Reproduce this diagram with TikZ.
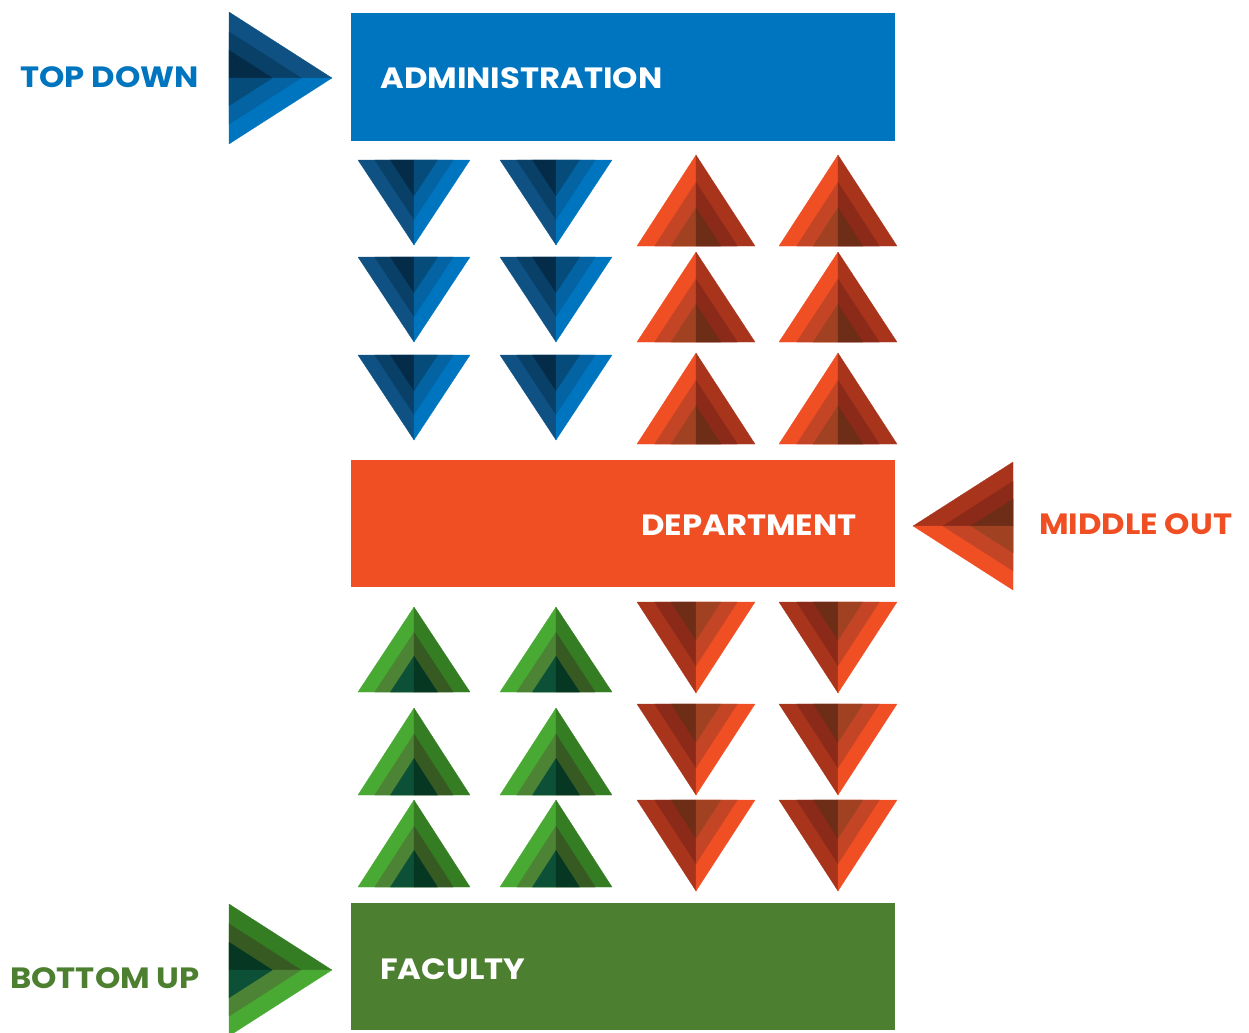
\documentclass[tikz,border=0pt]{standalone}
\usepackage{fontspec}
\setmainfont{Poppins}[FakeStretch=1.1]
\usetikzlibrary{calc}
\definecolor{blueMain}{RGB}{0,117,191}
\definecolor{orangeMain}{RGB}{240,78,35}
\definecolor{greenMain}{RGB}{76,127,47}
% blue sets: bB = bright half, bD = dark half
\definecolor{bB1}{RGB}{0,117,191}\definecolor{bB2}{RGB}{3,99,163}\definecolor{bB3}{RGB}{5,76,122}
\definecolor{bD1}{RGB}{14,81,130}\definecolor{bD2}{RGB}{8,64,104}\definecolor{bD3}{RGB}{4,44,72}
% orange
\definecolor{oB1}{RGB}{240,78,35}\definecolor{oB2}{RGB}{196,69,38}\definecolor{oB3}{RGB}{160,66,34}
\definecolor{oD1}{RGB}{168,52,28}\definecolor{oD2}{RGB}{140,42,26}\definecolor{oD3}{RGB}{110,45,22}
% green
\definecolor{gB1}{RGB}{72,170,50}\definecolor{gB2}{RGB}{76,131,52}\definecolor{gB3}{RGB}{12,80,55}
\definecolor{gD1}{RGB}{52,125,35}\definecolor{gD2}{RGB}{55,90,35}\definecolor{gD3}{RGB}{5,55,35}
% #1 apex, #2 base end A, #3 base end B, #4 colour set of A half, #5 colour set of B half
\newcommand{\shtri}[5]{%
  \coordinate (M) at ($#2!0.5!#3$);
  \foreach \s/\k in {1/1,0.7/2,0.42/3}{%
    \filldraw[fill=#4\k,draw=#4\k,line width=0.2pt,line join=round] (M) -- ($(M)!\s!#2$) -- ($(M)!\s!#1$) -- cycle;
    \filldraw[fill=#5\k,draw=#5\k,line width=0.2pt,line join=round] (M) -- ($(M)!\s!#3$) -- ($(M)!\s!#1$) -- cycle;
  }}
\tikzset{
  bartext/.style={inner sep=0pt,text=white,font=\bfseries\fontsize{22}{26}\selectfont},
  lbl/.style={inner sep=0pt,font=\bfseries\fontsize{22}{26}\selectfont},
}
\begin{document}
\begin{tikzpicture}[x=0.75pt,y=-0.75pt]
\useasboundingbox (0,0) rectangle (1249,1032);
% bars
\fill[blueMain] (351,13) rectangle (895,141);
\fill[orangeMain] (351,460) rectangle (895,587);
\fill[greenMain] (351,903) rectangle (895,1030);
\node[bartext,anchor=west] (adm) at (380,78) {ADMINISTRATION};
\node[bartext,anchor=east] (dep) at (857,525) {DEPARTMENT};
\node[bartext,anchor=west] (fac) at (380,969) {FACULTY};
% labels
\node[lbl,anchor=west,text=blueMain] (td) at (20,77) {TOP DOWN};
\node[lbl,anchor=west,text=orangeMain] (mo) at (1039,524) {MIDDLE OUT};
\node[lbl,anchor=west,text=greenMain] (bu) at (10,978) {BOTTOM UP};
% big arrows
\shtri{(332,78)}{(229,12)}{(229,144)}{bD}{bB}
\shtri{(913,526)}{(1013,462)}{(1013,590)}{oD}{oB}
\shtri{(332,970)}{(229,904)}{(229,1036)}{gD}{gB}
% blue down triangles
\foreach \cx in {414,556}{
  \foreach \by in {160,257,355}{
    \shtri{(\cx,\by+85)}{(\cx-56,\by)}{(\cx+56,\by)}{bD}{bB}
  }}
% orange up triangles
\foreach \cx in {696,838}{
  \foreach \ay/\by in {155/246,252/342,353/444}{
    \shtri{(\cx,\ay)}{(\cx-59,\by)}{(\cx+59,\by)}{oB}{oD}
  }}
% green up triangles
\foreach \cx in {414,556}{
  \foreach \ay/\by in {607/692,708/795,800/887}{
    \shtri{(\cx,\ay)}{(\cx-56,\by)}{(\cx+56,\by)}{gB}{gD}
  }}
% orange down triangles
\foreach \cx in {696,838}{
  \foreach \by/\ay in {602/693,704/795,800/891}{
    \shtri{(\cx,\ay)}{(\cx-59,\by)}{(\cx+59,\by)}{oD}{oB}
  }}
\end{tikzpicture}
\end{document}
